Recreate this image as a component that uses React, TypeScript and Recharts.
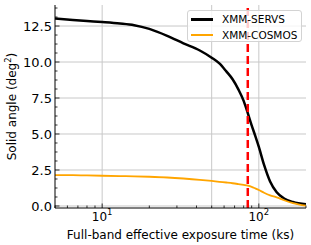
import React from "react";
import {
  LineChart,
  Line,
  XAxis,
  YAxis,
  CartesianGrid,
  ReferenceLine,
  Legend,
} from "recharts";

const FONT = "DejaVu Sans";

// exposure time (ks) and the solid angle (deg^2) reached at that depth
const exposure = [5, 6.5, 8, 10, 13, 16, 20, 26, 33, 42, 50, 56, 62, 68, 74, 80, 85, 90, 95, 100, 108, 118, 130, 145, 165, 200];
const servsArea = [13.02, 12.92, 12.85, 12.78, 12.68, 12.56, 12.3, 11.82, 11.3, 10.8, 10.3, 9.9, 9.35, 8.8, 8.1, 7.3, 6.45, 5.6, 4.85, 4.1, 2.85, 1.7, 0.95, 0.52, 0.28, 0.12];
const cosmosArea = [2.15, 2.14, 2.12, 2.1, 2.08, 2.06, 2.03, 1.98, 1.91, 1.82, 1.74, 1.68, 1.63, 1.58, 1.52, 1.46, 1.41, 1.33, 1.22, 1.11, 0.92, 0.74, 0.6, 0.4, 0.2, 0.02];

const seriesNames = ["XMM-SERVS", "XMM-COSMOS"];
const seriesColors = ["#000000", "#ffa500"];
const seriesWidths = [2.5, 1.8];

const cutoff = 85;

const xMajor = [10, 100];
const xExp = ["1", "2"];
const xTicks = [5, 6, 7, 8, 9, 10, 20, 30, 40, 50, 60, 70, 80, 90, 100, 200];
const gridX = [10, 50, 100];

const yMajor = [0, 2.5, 5, 7.5, 10, 12.5];
const yTicks = [
  0, 0.625, 1.25, 1.875, 2.5, 3.125, 3.75, 4.375, 5, 5.625, 6.25, 6.875, 7.5,
  8.125, 8.75, 9.375, 10, 10.625, 11.25, 11.875, 12.5, 13.125, 13.75,
];

const data = exposure.map((t, i) => ({
  t,
  servs: servsArea[i],
  cosmos: cosmosArea[i],
}));

const MAJOR_LEN = 4.5;
const MINOR_LEN = 2.5;

const BottomTick = (props: any) => {
  const { x, y, payload } = props;
  const idx = xMajor.indexOf(payload.value);
  const major = idx >= 0;
  return (
    <g>
      <line x1={x} y1={y} x2={x} y2={y - (major ? MAJOR_LEN : MINOR_LEN)} stroke="#000" strokeWidth={0.8} />
      {major && (
        <text x={x} y={y + 13} textAnchor="middle" fontSize={12} fontFamily={FONT} fill="#000">
          <tspan>10</tspan>
          <tspan dy={-6} fontSize={8.5}>{xExp[idx]}</tspan>
        </text>
      )}
    </g>
  );
};

const TopTick = (props: any) => {
  const { x, y, payload } = props;
  const major = xMajor.includes(payload.value);
  return <line x1={x} y1={y} x2={x} y2={y + (major ? MAJOR_LEN : MINOR_LEN)} stroke="#000" strokeWidth={0.8} />;
};

const LeftTick = (props: any) => {
  const { x, y, payload } = props;
  const major = yMajor.includes(payload.value);
  return (
    <g>
      <line x1={x} y1={y} x2={x + (major ? MAJOR_LEN : MINOR_LEN)} y2={y} stroke="#000" strokeWidth={0.8} />
      {major && (
        <text x={x - 3} y={y} dy="0.36em" textAnchor="end" fontSize={13} fontFamily={FONT} fill="#000">
          {payload.value.toFixed(1)}
        </text>
      )}
    </g>
  );
};

const RightTick = (props: any) => {
  const { x, y, payload } = props;
  const major = yMajor.includes(payload.value);
  return <line x1={x} y1={y} x2={x - (major ? MAJOR_LEN : MINOR_LEN)} y2={y} stroke="#000" strokeWidth={0.8} />;
};

const YLabel = (props: any) => {
  const vb = props.viewBox ?? { x: 0, y: 5, width: 55, height: 203 };
  const cx = vb.x + 16;
  const cy = vb.y + vb.height / 2;
  return (
    <text
      x={cx}
      y={cy}
      transform={`rotate(-90, ${cx}, ${cy})`}
      textAnchor="middle"
      fontSize={12}
      fontFamily={FONT}
      fill="#000"
    >
      Solid angle (deg
      <tspan dy={-5} fontSize={8.5}>2</tspan>
      <tspan dy={5}>)</tspan>
    </text>
  );
};

const legendSwatch = [3, 2];

const LegendBox = () => (
  <div
    style={{
      width: 115,
      height: 32,
      boxSizing: "border-box",
      border: "1px solid #d3d3d3",
      borderRadius: 3,
      background: "rgba(255,255,255,0.8)",
      fontFamily: FONT,
      fontSize: 10.5,
      color: "#000",
      padding: "0 0 0 3px",
    }}
  >
    {seriesNames.map((name, i) => (
      <div key={name} style={{ display: "flex", alignItems: "center", height: 16 }}>
        <div style={{ width: 22, height: legendSwatch[i], background: seriesColors[i] }} />
        <span style={{ marginLeft: 9, lineHeight: "16px", whiteSpace: "nowrap" }}>{name}</span>
      </div>
    ))}
  </div>
);

export default function App() {
  return (
    <div style={{ position: "absolute", left: 0, top: 0, background: "#fff" }}>
      <LineChart
        width={311}
        height={245}
        data={data}
        margin={{ top: 5, right: 5, bottom: 0, left: 0 }}
        style={{ fontFamily: FONT }}
      >
        <CartesianGrid
          stroke="#c8c8c8"
          strokeWidth={1}
          horizontalValues={yMajor}
          verticalValues={gridX}
        />
        <XAxis
          dataKey="t"
          type="number"
          scale="log"
          domain={[5, 200]}
          allowDataOverflow
          ticks={xTicks}
          interval={0}
          tick={(p: any) => <BottomTick {...p} />}
          tickLine={false}
          tickSize={0}
          tickMargin={0}
          height={37}
          axisLine={{ stroke: "#000" }}
          label={{
            value: "Full-band effective exposure time (ks)",
            position: "insideBottom",
            offset: 6,
            fontSize: 12,
            fontFamily: FONT,
            fill: "#000",
          }}
        />
        <XAxis
          xAxisId="top"
          orientation="top"
          dataKey="t"
          type="number"
          scale="log"
          domain={[5, 200]}
          allowDataOverflow
          ticks={xTicks}
          interval={0}
          tick={(p: any) => <TopTick {...p} />}
          tickLine={false}
          tickSize={0}
          tickMargin={0}
          height={0}
          axisLine={{ stroke: "#000" }}
        />
        <YAxis
          type="number"
          domain={[-0.14, 13.96]}
          allowDataOverflow
          ticks={yTicks}
          interval={0}
          tick={(p: any) => <LeftTick {...p} />}
          tickLine={false}
          tickSize={0}
          tickMargin={0}
          width={55}
          axisLine={{ stroke: "#000" }}
          label={(p: any) => <YLabel {...p} />}
        />
        <YAxis
          yAxisId="right"
          orientation="right"
          type="number"
          domain={[-0.14, 13.96]}
          allowDataOverflow
          ticks={yTicks}
          interval={0}
          tick={(p: any) => <RightTick {...p} />}
          tickLine={false}
          tickSize={0}
          tickMargin={0}
          width={0}
          axisLine={{ stroke: "#000" }}
        />
        <Line
          type="monotone"
          dataKey="servs"
          name={seriesNames[0]}
          stroke={seriesColors[0]}
          strokeWidth={seriesWidths[0]}
          dot={false}
          isAnimationActive={false}
        />
        <Line
          type="monotone"
          dataKey="cosmos"
          name={seriesNames[1]}
          stroke={seriesColors[1]}
          strokeWidth={seriesWidths[1]}
          dot={false}
          isAnimationActive={false}
        />
        <ReferenceLine x={cutoff} stroke="#ff0000" strokeWidth={2.5} strokeDasharray="8 4" />
        <Legend
          layout="horizontal"
          verticalAlign="middle"
          align="center"
          wrapperStyle={{ top: 10, left: 187, width: 115 }}
          content={() => <LegendBox />}
        />
      </LineChart>
    </div>
  );
}
